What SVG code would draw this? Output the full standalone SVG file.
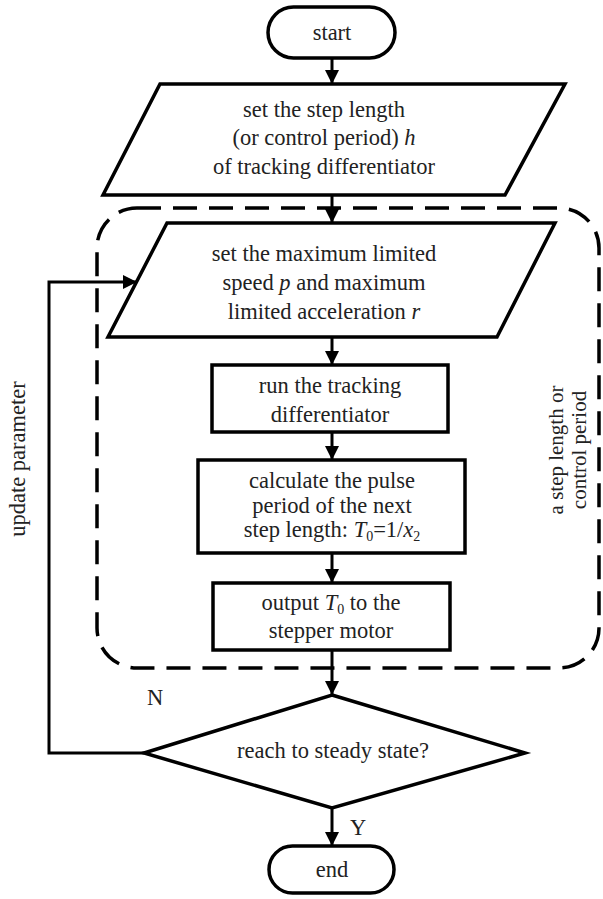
<svg xmlns="http://www.w3.org/2000/svg" width="603" height="899" viewBox="0 0 603 899">
<style>
.s{fill:#fff;stroke:#000;stroke-width:3.5;stroke-linejoin:miter}
.t{font-family:"Liberation Serif","Times New Roman",serif;font-size:22.5px;fill:#222;text-anchor:middle}
.i{font-style:italic}
.sub{font-size:14px}
.c{fill:none;stroke:#000;stroke-width:3}
.d{fill:none;stroke:#000;stroke-width:3.5;stroke-dasharray:24 12}
</style>
<defs>
<marker id="ah" markerUnits="userSpaceOnUse" viewBox="0 0 14 14" markerWidth="14" markerHeight="14" refX="14" refY="7" orient="auto">
<path d="M0,0 L14,7 L0,14 z" fill="#000"/>
</marker>
</defs>
<rect width="603" height="899" fill="#fff"/>
<g id="loop-boundary">
<rect class="d" x="97" y="208" width="502" height="460" rx="40" ry="40"/>
</g>
<g id="connectors">
<line class="c" x1="332" y1="58" x2="332" y2="84" marker-end="url(#ah)"/>
<line class="c" x1="332" y1="195" x2="332" y2="223" marker-end="url(#ah)"/>
<line class="c" x1="332" y1="337" x2="332" y2="365" marker-end="url(#ah)"/>
<line class="c" x1="332" y1="432" x2="332" y2="460" marker-end="url(#ah)"/>
<line class="c" x1="332" y1="553" x2="332" y2="583" marker-end="url(#ah)"/>
<line class="c" x1="332" y1="650" x2="332" y2="695" marker-end="url(#ah)"/>
<line class="c" x1="332" y1="808" x2="332" y2="846" marker-end="url(#ah)"/>
<polyline class="c" points="144,753 49,753 49,282 137,282" marker-end="url(#ah)"/>
<text class="t" x="155" y="705">N</text>
<text class="t" x="358" y="835">Y</text>
<text class="t" transform="translate(25,459) rotate(-90)">update parameter</text>
</g>
<g id="start">
<rect class="s" x="268" y="7" width="127" height="51" rx="25.5" ry="25.5"/>
<text class="t" x="332" y="40">start</text>
</g>
<g id="set-step">
<polygon class="s" points="160,84 565,84 505,195 103,195"/>
<text class="t" x="324" y="117">set the step length</text>
<text class="t" x="324" y="145">(or control period) <tspan class="i">h</tspan></text>
<text class="t" x="324" y="174">of tracking differentiator</text>
</g>
<g id="set-limits">
<polygon class="s" points="167,223 555,223 497,337 108,337"/>
<text class="t" x="324" y="261">set the maximum limited</text>
<text class="t" x="324" y="290">speed <tspan class="i">p</tspan> and maximum</text>
<text class="t" x="324" y="319">limited acceleration <tspan class="i">r</tspan></text>
</g>
<g id="run-td">
<rect class="s" x="212" y="365" width="236" height="67"/>
<text class="t" x="330" y="393">run the tracking</text>
<text class="t" x="330" y="422">differentiator</text>
</g>
<g id="calc-period">
<rect class="s" x="198" y="460" width="267" height="93"/>
<text class="t" x="332" y="488">calculate the pulse</text>
<text class="t" x="332" y="513">period of the next</text>
<text class="t" x="332" y="537">step length: <tspan class="i">T</tspan><tspan class="sub" dy="4">0</tspan><tspan dy="-4">=1/</tspan><tspan class="i">x</tspan><tspan class="sub" dy="4">2</tspan></text>
</g>
<g id="output">
<rect class="s" x="213" y="583" width="237" height="67"/>
<text class="t" x="331" y="610">output <tspan class="i">T</tspan><tspan class="sub" dy="4">0</tspan><tspan dy="-4"> to the</tspan></text>
<text class="t" x="331" y="638">stepper motor</text>
</g>
<g id="steady">
<polygon class="s" points="332,695 525,753 332,808 144,753"/>
<text class="t" x="333" y="758">reach to steady state?</text>
</g>
<g id="end">
<rect class="s" x="269" y="846" width="125" height="47" rx="23.5" ry="23.5"/>
<text class="t" x="332" y="877">end</text>
</g>
<g id="period-label">
<text class="t" style="font-size:21px" transform="translate(563,450) rotate(-90)">a step length or</text>
<text class="t" style="font-size:21px" transform="translate(586,450) rotate(-90)">control period</text>
</g>
</svg>
